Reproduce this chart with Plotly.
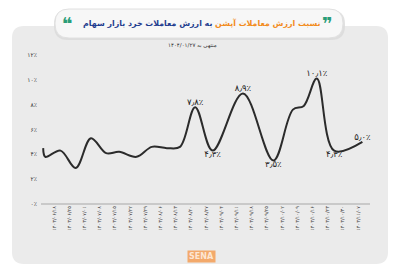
import plotly.graph_objects as go

# ---------------- data ----------------
# day offsets (tick every 7 days) and ratio values (%)
days = [-5, -4, 3, 10, 17, 24, 30, 38, 45, 52, 58, 65, 73, 87, 101, 110, 115, 121, 129, 142]
values = [4.5, 3.8, 4.3, 2.9, 5.3, 4.1, 4.2, 3.8, 4.6, 4.5, 4.6, 7.8, 4.3, 8.9, 3.5, 7.6, 7.9, 10.1, 4.3, 5.0]

label_days = [65, 73, 87, 101, 121, 129, 142]
label_vals = [7.8, 4.3, 8.9, 3.5, 10.1, 4.3, 5.0]
label_text = ["۷٫۸٪", "۴٫۳٪", "۸٫۹٪", "۳٫۵٪", "۱۰٫۱٪", "۴٫۳٪", "۵٫۰٪"]
label_pos = ["top center", "bottom center", "top center", "bottom center",
             "top center", "bottom center", "top center"]

tick_days = [0, 7, 14, 21, 28, 35, 42, 49, 56, 63, 70, 77, 84, 91, 98, 105, 112, 119, 126, 133, 140]
tick_text = ["۱۴۰۳/۰۶/۱۸", "۱۴۰۳/۰۶/۲۵", "۱۴۰۳/۰۷/۰۱", "۱۴۰۳/۰۷/۰۸", "۱۴۰۳/۰۷/۱۵",
             "۱۴۰۳/۰۷/۲۲", "۱۴۰۳/۰۷/۲۹", "۱۴۰۳/۰۸/۰۶", "۱۴۰۳/۰۸/۱۳", "۱۴۰۳/۰۸/۲۰",
             "۱۴۰۳/۰۸/۲۷", "۱۴۰۳/۰۹/۰۴", "۱۴۰۳/۰۹/۱۱", "۱۴۰۳/۰۹/۱۸", "۱۴۰۳/۰۹/۲۵",
             "۱۴۰۳/۱۰/۰۲", "۱۴۰۳/۱۰/۰۹", "۱۴۰۳/۱۰/۱۶", "۱۴۰۳/۱۰/۲۳", "۱۴۰۳/۱۰/۳۰",
             "۱۴۰۳/۱۱/۰۷"]

y_ticks = [0, 2, 4, 6, 8, 10, 12]
y_tick_text = ["۰٪", "۲٪", "۴٪", "۶٪", "۸٪", "۱۰٪", "۱۲٪"]

title_orange = "نسبت ارزش معاملات آپشن"
title_blue = "به ارزش معاملات خرد بازار سهام"
subtitle = "منتهی به ۱۴۰۴/۰۱/۲۷"

# ---------------- layout helpers ----------------
W, H = 400, 266
ML, MR, MT, MB = 41, 30, 55, 62
PW, PH = W - ML - MR, H - MT - MB


def px(x):
    return (x - ML) / PW


def py(y):
    return (H - MB - y) / PH


def rrect(x0, y0, x1, y1, r):
    pts = [
        f"M {px(x0 + r)},{py(y0)}",
        f"L {px(x1 - r)},{py(y0)}",
        f"Q {px(x1)},{py(y0)} {px(x1)},{py(y0 + r)}",
        f"L {px(x1)},{py(y1 - r)}",
        f"Q {px(x1)},{py(y1)} {px(x1 - r)},{py(y1)}",
        f"L {px(x0 + r)},{py(y1)}",
        f"Q {px(x0)},{py(y1)} {px(x0)},{py(y1 - r)}",
        f"L {px(x0)},{py(y0 + r)}",
        f"Q {px(x0)},{py(y0)} {px(x0 + r)},{py(y0)}",
        "Z",
    ]
    return " ".join(pts)


FONT = "DejaVu Sans"

fig = go.Figure()

fig.add_trace(go.Scatter(
    x=days, y=values, mode="lines",
    line=dict(color="#2b2b2b", width=2, shape="spline", smoothing=1.0),
    hoverinfo="skip", showlegend=False,
))

fig.add_trace(go.Scatter(
    x=label_days, y=label_vals, mode="text", text=label_text,
    textposition=label_pos,
    textfont=dict(family=FONT, size=8.5, color="#1e1e1e"),
    cliponaxis=False, hoverinfo="skip", showlegend=False,
))

shapes = [
    dict(type="path", xref="paper", yref="paper", path=rrect(12, 26, 388, 264, 12),
         fillcolor="#ebebeb", line=dict(width=0), layer="below"),
    dict(type="path", xref="paper", yref="paper", path=rrect(54, 10, 345, 40, 14),
         fillcolor="#d9d9d9", line=dict(width=0), layer="below", opacity=0.8),
    dict(type="path", xref="paper", yref="paper", path=rrect(55, 9, 343, 38, 14),
         fillcolor="#f7f7f7", line=dict(color="#e0e0e0", width=1), layer="below"),
]

title_html = ("<b><span style='color:#f28c1e'>" + title_orange + "</span> "
              "<span style='color:#1f3d8f'>" + title_blue + "</span></b>")

annotations = [
    dict(text=title_html, x=px(201.5), y=py(23.5), xref="paper", yref="paper",
         xanchor="center", yanchor="middle", showarrow=False,
         font=dict(family=FONT, size=7.9, color="#1f3d8f")),
    dict(text="<b>❞</b>", x=px(327), y=py(24), xref="paper", yref="paper",
         xanchor="center", yanchor="middle", showarrow=False,
         font=dict(family=FONT, size=18, color="#2a9d78")),
    dict(text="<b>❝</b>", x=px(67), y=py(24), xref="paper", yref="paper",
         xanchor="center", yanchor="middle", showarrow=False,
         font=dict(family=FONT, size=18, color="#2a9d78")),
    dict(text=subtitle, x=px(192), y=py(45), xref="paper", yref="paper",
         xanchor="center", yanchor="middle", showarrow=False,
         font=dict(family=FONT, size=5.5, color="#333333")),
    dict(text="<b>SENA</b>", x=px(201), y=py(256), xref="paper", yref="paper",
         xanchor="center", yanchor="middle", showarrow=False,
         bgcolor="#f3a96b", borderpad=1,
         font=dict(family=FONT, size=8, color="#fde6d3")),
]

fig.update_layout(
    width=W, height=H,
    margin=dict(l=ML, r=MR, t=MT, b=MB, pad=0),
    paper_bgcolor="#ffffff",
    plot_bgcolor="rgba(0,0,0,0)",
    shapes=shapes,
    annotations=annotations,
    showlegend=False,
    xaxis=dict(
        range=[-6, 145.5], tickmode="array", tickvals=tick_days, ticktext=tick_text,
        tickangle=-90, showgrid=False, zeroline=False, showline=False, ticks="",
        tickfont=dict(family=FONT, size=5, color="#444444"), fixedrange=True,
    ),
    yaxis=dict(
        range=[0, 12], tickmode="array", tickvals=y_ticks, ticktext=y_tick_text,
        showgrid=False, zeroline=True, zerolinecolor="#c9c9c9", zerolinewidth=2,
        showline=False, ticks="", ticklabelstandoff=3,
        tickfont=dict(family=FONT, size=6, color="#333333"), fixedrange=True,
    ),
)

fig.write_html("out.html")
